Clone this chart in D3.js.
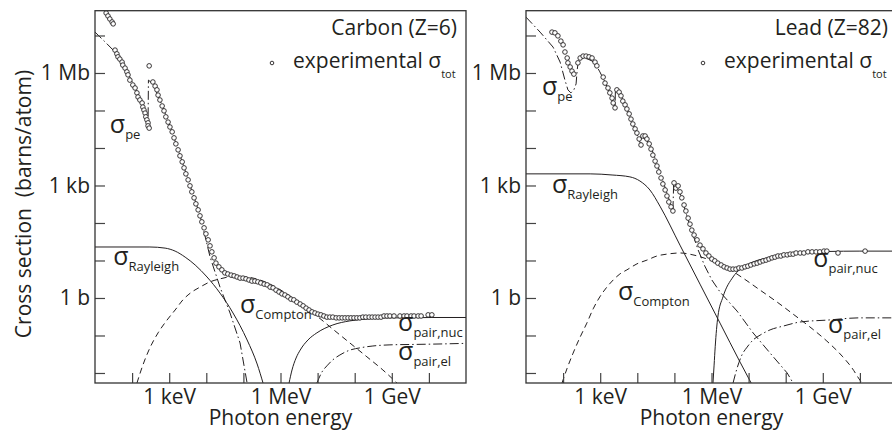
<!DOCTYPE html>
<html>
<head>
<meta charset="utf-8">
<script src="https://cdn.jsdelivr.net/npm/d3@7"></script>
<style>
body { margin: 0; background: #fff; }
text { font-family: "Open Sans", sans-serif; fill: #231f20; }
</style>
</head>
<body>
<svg id="chart" width="892" height="434"></svg>
<script>
// all values are [log10(E / eV), log10(sigma / barn)]

// Carbon (Z=6)
var carbonExp = [
  [1.30,7.60],[1.35,7.52],[1.40,7.44],[1.46,7.36],[1.49,7.31],
  [1.54,6.61],[1.59,6.51],[1.62,6.43],[1.67,6.37],[1.73,6.29],[1.75,6.21],[1.81,6.13],[1.86,6.03],[1.89,5.95],[1.94,5.81],
  [2.02,5.68],[2.08,5.60],[2.13,5.47],[2.16,5.36],[2.21,5.28],[2.27,5.20],[2.29,5.09],[2.32,5.01],[2.35,4.93],[2.37,4.83],
  [2.40,4.75],[2.43,4.67],[2.43,4.59],[2.46,4.53],
  [2.46,6.19],
  [2.56,5.76],[2.62,5.65],[2.67,5.55],[2.70,5.41],[2.75,5.28],[2.81,5.12],[2.86,4.99],[2.91,4.83],[2.97,4.69],[3.02,4.56],
  [3.08,4.43],[3.13,4.27],[3.18,4.11],[3.24,3.95],[3.29,3.79],[3.35,3.63],[3.40,3.47],[3.45,3.31],[3.51,3.15],[3.56,2.99],
  [3.61,2.83],[3.67,2.67],[3.72,2.51],[3.78,2.35],[3.83,2.19],[3.88,2.03],[3.94,1.87],[3.99,1.71],[4.05,1.55],[4.10,1.39],
  [4.15,1.23],[4.21,1.07],[4.26,0.93],[4.34,0.83],[4.42,0.75],[4.50,0.67],[4.58,0.64],[4.67,0.61],[4.75,0.59],[4.83,0.56],
  [4.91,0.53],[4.99,0.53],[5.07,0.51],[5.15,0.48],[5.23,0.45],[5.31,0.45],[5.39,0.43],[5.47,0.40],[5.56,0.37],[5.64,0.35],
  [5.72,0.29],[5.80,0.27],[5.88,0.21],[5.96,0.16],[6.04,0.11],[6.12,0.08],[6.20,0.03],[6.28,-0.03],[6.36,-0.05],[6.44,-0.11],
  [6.53,-0.16],[6.61,-0.21],[6.69,-0.27],[6.77,-0.32],[6.85,-0.37],[6.93,-0.40],[7.01,-0.43],[7.09,-0.45],[7.17,-0.48],[7.25,-0.51],
  [7.33,-0.51],[7.41,-0.51],[7.50,-0.53],[7.58,-0.53],[7.66,-0.53],[7.74,-0.53],[7.82,-0.53],[7.90,-0.53],[7.98,-0.53],[8.06,-0.53],
  [8.14,-0.53],[8.22,-0.51],[8.30,-0.51],[8.39,-0.51],[8.47,-0.51],[8.55,-0.51],[8.63,-0.51],[8.71,-0.51],[8.79,-0.48],[8.87,-0.48],
  [8.95,-0.48],[9.06,-0.48],[9.22,-0.48],[9.33,-0.48],[9.41,-0.48],[9.52,-0.48],[9.60,-0.48],[9.71,-0.48],[9.79,-0.48],[9.98,-0.45],[10.08,-0.45]
];
var carbonPe = [
  [1.00,7.09],[1.27,6.83],[1.54,6.56],[1.81,6.16],[2.08,5.60],[2.27,5.15],[2.43,4.64],
  [2.44,5.81],[2.56,5.71],[2.75,5.28],[3.02,4.59],[3.29,3.81],[3.56,3.01],[3.83,2.21],[4.10,1.10],
  [4.37,0.29],[4.64,-0.40],[4.91,-1.20],[5.10,-2.27]
];
var carbonRayleigh = [
  [1.00,1.36],[2.48,1.36],[2.89,1.33],[3.16,1.25],[3.43,1.09],[3.70,0.88],[4.02,0.56],[4.37,0.13],
  [4.72,-0.40],[5.10,-1.12],[5.37,-1.76],[5.53,-2.27]
];
var carbonCompton = [
  [2.13,-2.27],[2.29,-1.79],[2.48,-1.33],[2.70,-0.93],[2.94,-0.59],[3.16,-0.32],[3.37,-0.05],[3.61,0.16],
  [3.83,0.29],[4.10,0.43],[4.37,0.51],[4.64,0.56],[5.04,0.56],[5.45,0.48],[5.72,0.37],[6.01,0.21],
  [6.26,0.05],[6.53,-0.13],[6.98,-0.48],[7.41,-0.83],[7.87,-1.20],[8.33,-1.57],[8.76,-1.92],[9.14,-2.27]
];
var carbonPairNuc = [
  [6.23,-2.27],[6.31,-1.92],[6.42,-1.60],[6.53,-1.39],[6.74,-1.12],[6.98,-0.93],[7.41,-0.72],[7.87,-0.61],
  [8.33,-0.56],[8.76,-0.53],[9.22,-0.53],[10.11,-0.52],[11.00,-0.52]
];
var carbonPairEl = [
  [6.98,-2.27],[7.12,-1.97],[7.25,-1.81],[7.41,-1.65],[7.60,-1.52],[7.87,-1.39],[8.14,-1.33],[8.49,-1.28],
  [8.95,-1.25],[9.49,-1.24],[10.11,-1.23],[11.00,-1.21]
];

// Lead (Z=82)
var leadExp = [
  [1.70,7.09],[1.78,7.07],[1.86,6.99],[1.94,6.85],[2.00,6.75],[2.05,6.56],[2.11,6.40],[2.13,6.27],[2.19,6.16],[2.24,6.05],[2.29,5.97],
  [2.40,6.27],[2.46,6.40],[2.54,6.45],[2.62,6.45],[2.70,6.43],[2.78,6.40],[2.86,6.29],[2.91,6.19],
  [3.08,5.89],[3.13,5.73],[3.21,5.60],[3.26,5.47],[3.32,5.33],[3.35,5.20],[3.40,5.07],
  [3.45,5.55],[3.51,5.49],[3.56,5.39],[3.61,5.25],[3.67,5.15],[3.72,5.04],[3.78,4.91],[3.83,4.77],[3.88,4.64],[3.94,4.51],
  [3.99,4.40],[4.05,4.24],[4.10,4.08],
  [4.15,4.32],[4.21,4.32],[4.26,4.24],[4.32,4.11],[4.37,3.97],[4.42,3.81],[4.48,3.65],[4.53,3.52],[4.58,3.36],[4.64,3.20],
  [4.69,3.04],[4.75,2.88],[4.80,2.72],[4.85,2.56],[4.91,2.43],[4.96,2.32],
  [4.99,3.07],[5.04,2.93],[5.10,2.99],[5.15,2.83],[5.20,2.67],[5.26,2.48],[5.31,2.32],[5.37,2.13],[5.42,1.97],[5.47,1.81],
  [5.53,1.68],[5.61,1.55],[5.69,1.41],[5.77,1.31],[5.85,1.20],[5.93,1.12],[6.01,1.04],[6.09,0.99],[6.17,0.93],[6.26,0.88],
  [6.34,0.83],[6.42,0.80],[6.50,0.77],[6.58,0.77],[6.66,0.77],[6.74,0.80],[6.82,0.80],[6.90,0.83],[6.98,0.85],[7.06,0.88],
  [7.15,0.91],[7.23,0.93],[7.31,0.96],[7.39,0.99],[7.47,1.01],[7.55,1.04],[7.63,1.07],[7.71,1.09],[7.79,1.12],[7.87,1.12],
  [7.95,1.15],[8.04,1.15],[8.12,1.17],[8.20,1.17],[8.28,1.20],[8.39,1.20],[8.49,1.20],[8.60,1.23],[8.71,1.23],[8.82,1.23],
  [8.92,1.23],[9.03,1.25],[9.11,1.25],[9.41,1.20],[10.14,1.25]
];
var leadPe = [
  [1.00,7.49],[1.38,7.09],[1.73,6.69],[1.92,6.29],[2.05,5.81],[2.13,5.55],[2.21,5.47],[2.29,5.55],[2.35,5.71],[2.38,6.08],
  [2.40,6.24],[2.48,6.37],[2.56,6.40],[2.67,6.37],[2.78,6.32],[2.89,6.21],[2.99,6.03],[3.13,5.76],[3.26,5.44],[3.40,5.07],
  [3.41,5.55],[3.53,5.47],[3.80,4.85],[4.10,4.08],
  [4.11,4.32],[4.34,4.11],[4.61,3.36],[4.96,2.32],
  [4.98,3.07],[5.15,2.80],[5.42,1.92],[5.64,1.28],[5.82,0.85],[6.01,0.48],[6.23,0.16],[6.69,-0.35],[7.12,-0.93],
  [7.58,-1.47],[8.04,-2.00],[8.20,-2.27]
];
var leadRayleigh = [
  [1.00,3.31],[2.73,3.31],[3.32,3.28],[3.80,3.23],[4.07,3.12],[4.34,2.88],[4.61,2.45],[5.15,1.41],[5.69,0.37],
  [6.23,-0.67],[6.77,-1.71],[7.07,-2.27]
];
var leadCompton = [
  [1.97,-2.27],[2.11,-1.87],[2.27,-1.47],[2.46,-1.04],[2.64,-0.67],[2.81,-0.29],[2.99,0.03],[3.18,0.29],[3.35,0.48],
  [3.53,0.64],[3.72,0.75],[3.99,0.91],[4.26,1.01],[4.53,1.12],[4.80,1.17],[5.15,1.20],[5.50,1.15],[5.96,1.01],
  [6.42,0.80],[6.85,0.53],[7.31,0.21],[7.77,-0.11],[8.20,-0.43],[8.65,-0.77],[9.11,-1.15],[9.54,-1.57],[9.79,-1.87],
  [10.00,-2.19],[10.06,-2.27]
];
var leadPairNuc = [
  [6.04,-2.27],[6.07,-1.79],[6.10,-1.30],[6.17,-0.51],[6.31,0.03],[6.58,0.56],[6.96,0.88],[7.50,1.07],[7.93,1.15],
  [8.39,1.20],[9.11,1.24],[10.00,1.25],[11.00,1.25]
];
var leadPairEl = [
  [6.58,-2.27],[6.69,-1.87],[6.82,-1.52],[6.96,-1.31],[7.12,-1.12],[7.31,-0.99],[7.58,-0.85],[7.93,-0.75],
  [8.39,-0.64],[9.11,-0.59],[10.00,-0.53],[11.00,-0.53]
];

// tick labels
var xTickLabels = { 3: "1 keV", 6: "1 MeV", 9: "1 GeV" };
var yTickLabels = { 0: "1 b", 3: "1 kb", 6: "1 Mb" };

var svg = d3.select("#chart");

var plotTop = 10.7, plotBottom = 383, plotWidth = 371;
var yScale = d3.scaleLog().domain([Math.pow(10, -2.267), Math.pow(10, 7.661)]).range([plotBottom, plotTop]);

var panels = [
  { id: "c", title: "Carbon (Z=6)", left: 95, exp: carbonExp,
    curves: [[carbonPe, "dd", true], [carbonRayleigh, "s"], [carbonCompton, "d"], [carbonPairNuc, "s"], [carbonPairEl, "dd"]],
    labels: [["pe", 1.40, 4.40], ["Rayleigh", 1.49, 0.88], ["Compton", 4.91, -0.40], ["pair,nuc", 9.17, -0.88], ["pair,el", 9.17, -1.65]] },
  { id: "l", title: "Lead (Z=82)", left: 526, exp: leadExp,
    curves: [[leadPe, "dd", true], [leadRayleigh, "s"], [leadCompton, "d"], [leadPairNuc, "s"], [leadPairEl, "dd"]],
    labels: [["pe", 1.43, 5.41], ["Rayleigh", 1.70, 2.80], ["Compton", 3.48, -0.05], ["pair,nuc", 8.74, 0.83], ["pair,el", 9.14, -0.93]] }
];

var dashes = { s: null, d: "6,4", dd: "9,3,1.5,3" };

panels.forEach(function(p) {
  var xScale = d3.scaleLog().domain([10, 1e11]).range([p.left, p.left + plotWidth]);
  var right = p.left + plotWidth;
  var g = svg.append("g");

  g.append("clipPath").attr("id", "clip-" + p.id)
    .append("rect").attr("x", p.left).attr("y", plotTop).attr("width", plotWidth).attr("height", plotBottom - plotTop);

  var line = d3.line()
    .x(d => xScale(Math.pow(10, d[0])))
    .y(d => yScale(Math.pow(10, d[1])));

  var plot = g.append("g").attr("clip-path", "url(#clip-" + p.id + ")");
  p.curves.forEach(function(c) {
    plot.append("path")
      .attr("d", line.curve(c[2] ? d3.curveLinear : d3.curveMonotoneX)(c[0]))
      .attr("fill", "none")
      .attr("stroke", "#231f20")
      .attr("stroke-width", 1)
      .attr("stroke-dasharray", dashes[c[1]]);
  });

  plot.selectAll("circle")
    .data(p.exp)
    .enter()
    .append("circle")
    .attr("cx", d => xScale(Math.pow(10, d[0])))
    .attr("cy", d => yScale(Math.pow(10, d[1])))
    .attr("r", 2.3)
    .attr("fill", "#fff")
    .attr("stroke", "#231f20")
    .attr("stroke-width", 0.9);

  // axes, ticks pointing inward
  var xAxis = d3.axisBottom(xScale)
    .tickValues(d3.range(2, 11).map(e => Math.pow(10, e)))
    .tickSizeInner(-10).tickSizeOuter(0).tickPadding(6)
    .tickFormat(d => xTickLabels[Math.round(Math.log10(d))] || "");
  var yAxis = d3.axisLeft(yScale)
    .tickValues(d3.range(-2, 8).map(e => Math.pow(10, e)))
    .tickSizeInner(-10).tickSizeOuter(0).tickPadding(5)
    .tickFormat(d => yTickLabels[Math.round(Math.log10(d))] || "");

  var ax = g.append("g").attr("transform", "translate(0," + plotBottom + ")").call(xAxis);
  var ay = g.append("g").attr("transform", "translate(" + p.left + ",0)").call(yAxis);
  [ax, ay].forEach(function(a) {
    a.select(".domain").remove();
    a.selectAll(".tick line").attr("stroke", "#444").attr("stroke-width", 1.2);
    a.selectAll("text").style("font-size", "21px").attr("fill", "#231f20");
  });

  g.append("rect")
    .attr("x", p.left).attr("y", plotTop).attr("width", plotWidth).attr("height", plotBottom - plotTop)
    .attr("fill", "none").attr("stroke", "#333").attr("stroke-width", 1.3);

  // title and legend
  g.append("text").attr("x", right - 9).attr("y", 35)
    .attr("text-anchor", "end").style("font-size", "21px").text(p.title);
  g.append("circle").attr("cx", right - 194).attr("cy", 63).attr("r", 1.8)
    .attr("fill", "#fff").attr("stroke", "#231f20").attr("stroke-width", 0.9);
  var leg = g.append("text").attr("x", right - 173).attr("y", 68).style("font-size", "21px");
  leg.append("tspan").text("experimental σ");
  leg.append("tspan").attr("dy", 10).style("font-size", "11px").text("tot");

  // curve labels
  p.labels.forEach(function(l) {
    var t = g.append("text")
      .attr("x", xScale(Math.pow(10, l[1])))
      .attr("y", yScale(Math.pow(10, l[2])));
    t.append("tspan").style("font-size", "25px").text("σ");
    t.append("tspan").attr("dy", 6).style("font-size", "13px").text(l[0]);
  });

  g.append("text")
    .attr("x", (p.left + right) / 2).attr("y", 425)
    .attr("text-anchor", "middle").style("font-size", "21px")
    .text("Photon energy");
});

svg.append("text")
  .attr("transform", "translate(31,204) rotate(-90)")
  .attr("text-anchor", "middle")
  .style("font-size", "21px")
  .style("white-space", "pre")
  .text("Cross section  (barns/atom)");
</script>
</body>
</html>
